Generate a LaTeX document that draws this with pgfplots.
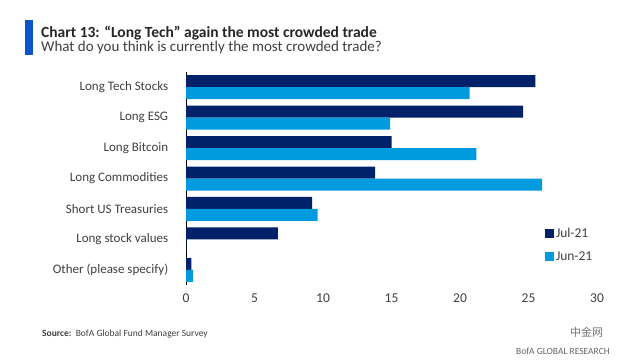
\documentclass[border=0pt]{standalone}
\usepackage{pgfplots}
\pgfplotsset{compat=1.18}
\usepackage{fontspec}
\setmainfont{Carlito}
\newfontfamily\cjk{Noto Sans CJK SC}
\definecolor{navy}{HTML}{012169}
\definecolor{sky}{HTML}{009ADE}
\definecolor{titleblue}{HTML}{0A55C8}
\definecolor{txt}{HTML}{404040}
\begin{document}
\begin{tikzpicture}
\path[use as bounding box, fill=white] (0pt,0pt) rectangle (634pt,361pt);
\fill[titleblue] (25pt,306pt) rectangle (33pt,341pt);
\node[anchor=base west, font=\bfseries\fontsize{15.5}{18}\selectfont, text=black!85, inner sep=0] at (41pt,323pt) {Chart 13: “Long Tech” again the most crowded trade};
\node[anchor=base west, font=\fontsize{15}{18}\selectfont, text=txt, inner sep=0] at (41pt,309pt) {What do you think is currently the most crowded trade?};
\begin{axis}[
  at={(186pt,76pt)}, anchor=south west,
  scale only axis, width=411pt, height=213pt,
  xbar, bar width=12pt,
  xmin=0, xmax=30, ymin=-0.5, ymax=6.5,
  y dir=reverse,
  xtick={0,5,...,30},
  ytick={0,...,6},
  yticklabels={Long Tech Stocks, Long ESG, Long Bitcoin, Long Commodities, Short US Treasuries, Long stock values, Other (please specify)},
  tick style={draw=none},
  axis y line*=left,
  axis x line*=bottom,
  y axis line style={draw=black, line width=1pt, -},
  x axis line style={draw=none, -},
  ticklabel style={font=\fontsize{13.5}{16}\selectfont, text=txt},
  yticklabel style={font=\fontsize{13}{16}\selectfont},
  yticklabel shift=10pt,
  xticklabel shift=5pt,
  /pgf/number format/assume math mode=true,
  legend style={draw=none, at={(0.873,0.188)}, anchor=west, font=\fontsize{13.5}{16}\selectfont, text=txt, row sep=8pt, inner sep=0pt},
  legend cell align=left,
  legend image code/.code={\fill[#1] (0pt,-4.5pt) rectangle (9pt,4.5pt);},
  clip=false,
]
\addplot[draw=none, fill=navy, bar shift=6pt] coordinates {(25.5,0) (24.6,1) (15.0,2) (13.8,3) (9.2,4) (6.7,5) (0.4,6)};
\addplot[draw=none, fill=sky, bar shift=-6pt] coordinates {(20.7,0) (14.9,1) (21.2,2) (26.0,3) (9.6,4) (0,5) (0.5,6)};
\legend{Jul-21, Jun-21}
\end{axis}
\node[anchor=base west, font=\fontsize{9.5}{11}\selectfont, text=txt, inner sep=0] at (42pt,24pt) {\textbf{Source:}\ \ BofA Global Fund Manager Survey};
\node[anchor=base east, font=\fontsize{9.5}{11}\selectfont, text=black!60, inner sep=0] at (610pt,6pt) {BofA GLOBAL RESEARCH};
\node[anchor=base west, font=\cjk\fontsize{11}{13}\selectfont, text=black!55, inner sep=0] at (570pt,24pt) {中金网};
\end{tikzpicture}
\end{document}
